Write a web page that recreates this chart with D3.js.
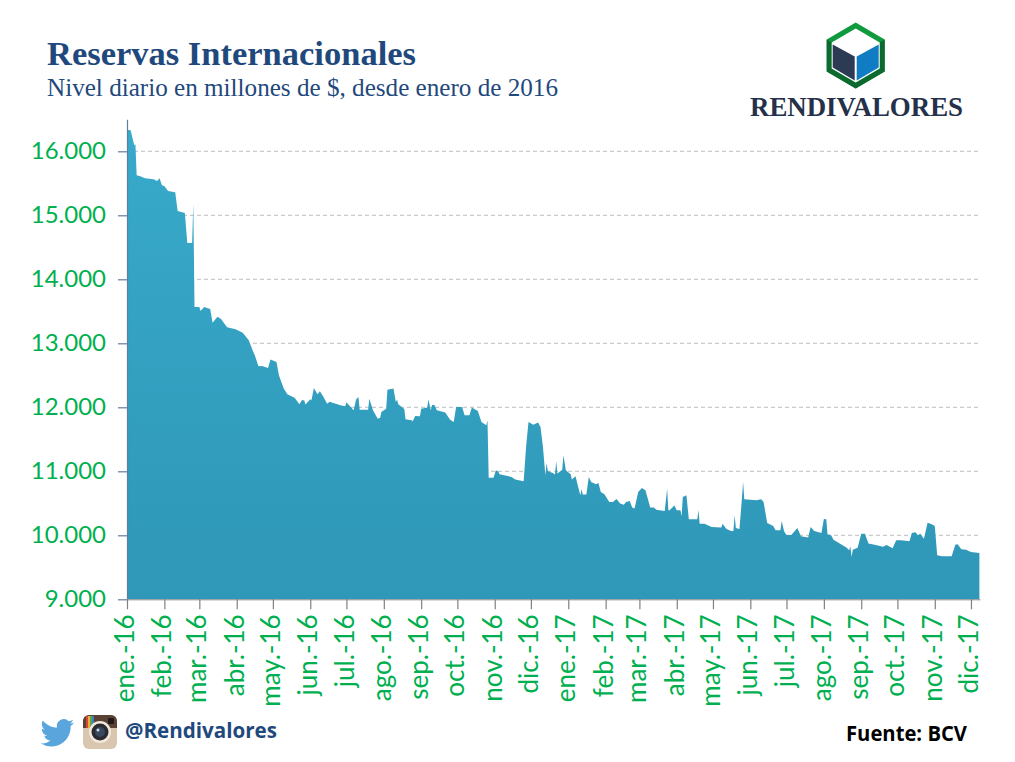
<!DOCTYPE html>
<html>
<head>
<meta charset="utf-8">
<script src="https://cdn.jsdelivr.net/npm/d3@7"></script>
<style>
  body { margin: 0; background: #fff; }
  svg { display: block; }
</style>
</head>
<body>
<script>
// Datos: dias desde el 1 de enero de 2016 y nivel de reservas
const dias = [
  0,3,5,6,7,8,11,15,22,25,
  27,29,31,34,40,42,48,50,54,55,
  56,60,61,64,69,71,75,78,83,90,
  96,101,104,106,109,112,117,119,124,126,
  130,133,139,143,145,147,148,152,153,155,
  158,160,163,166,168,177,181,182,188,190,
  192,193,200,201,204,208,210,211,215,216,
  221,223,224,225,230,231,236,237,239,243,
  244,249,250,252,253,255,257,264,268,271,
  273,278,280,284,286,291,294,298,299,300,
  304,306,308,309,319,322,329,331,333,337,
  341,343,345,347,348,349,354,355,356,357,
  361,362,364,368,369,372,376,377,378,381,
  383,385,389,391,393,396,400,403,406,409,
  412,414,417,419,421,424,427,430,434,437,
  439,446,448,449,450,454,456,459,460,461,
  464,466,472,473,474,475,479,485,493,494,
  497,501,503,504,505,508,510,511,512,522,
  526,528,531,536,538,542,543,545,547,551,
  556,559,565,567,570,576,578,580,581,584,
  586,597,599,600,601,602,606,609,612,615,
  622,627,630,635,638,642,649,651,654,656,
  658,661,664,667,670,672,676,684,687,689,
  692,696,700,707
];
const reservas = [
  16338,16328,16172,16093,16109,15625,15609,15578,15562,15536,
  15578,15468,15458,15380,15359,15067,15036,14567,14567,15182,
  13568,13568,13505,13568,13536,13323,13416,13380,13250,13219,
  13166,13047,12901,12812,12640,12646,12614,12745,12708,12500,
  12292,12203,12151,12047,12109,12109,12042,12125,12109,12302,
  12203,12250,12161,12057,12088,12031,12016,12078,11953,12120,
  12161,11963,11963,12135,11953,11823,11838,11927,11979,12276,
  12292,12083,12120,12047,11974,11812,11797,11781,11864,11859,
  11979,11995,12120,11953,12037,12037,11953,11917,11807,11771,
  12005,12005,11875,11875,11995,11943,11771,11719,11797,10901,
  10901,11016,10995,10953,10912,10870,10844,11380,11771,11729,
  11761,11693,11380,10938,11130,11005,10964,10948,11156,10964,
  11026,11250,11016,10953,10870,10922,10625,10719,10636,10636,
  10912,10834,10797,10818,10677,10641,10521,10521,10568,10495,
  10479,10521,10537,10433,10417,10677,10740,10703,10433,10433,
  10401,10380,10729,10391,10391,10464,10391,10391,10297,10599,
  10625,10250,10250,10250,10391,10182,10182,10130,10120,10182,
  10104,10068,10068,10313,10115,10099,10573,10833,10563,10547,
  10563,10521,10193,10146,10078,10078,10224,10063,10005,10005,
  10115,9984,9964,10130,10068,10037,10255,10250,10016,10000,
  9932,9807,9766,9828,9662,9776,9807,10026,10026,9870,
  9844,9823,9849,9797,9922,9922,9906,10037,10047,10000,
  10026,9948,10198,10177,10146,9688,9672,9672,9854,9859,
  9781,9776,9740,9724
];
const nivelesY = [9000,10000,11000,12000,13000,14000,15000,16000];
const meses = [
  "ene.-16","feb.-16","mar.-16","abr.-16","may.-16","jun.-16","jul.-16","ago.-16",
  "sep.-16","oct.-16","nov.-16","dic.-16","ene.-17","feb.-17","mar.-17","abr.-17",
  "may.-17","jun.-17","jul.-17","ago.-17","sep.-17","oct.-17","nov.-17","dic.-17"
];

const w = 1015;
const h = 762;
const inicio = new Date(2016, 0, 1);
const fin = new Date(2017, 11, 8, 12);
const verde = "#00b050";
const azul = "#1f497d";

const svg = d3.select("body").append("svg")
  .attr("width", w)
  .attr("height", h)
  .style("background", "#fff");

const x = d3.scaleTime().domain([inicio, fin]).range([127, 980]);
const y = d3.scaleLinear().domain([9000, 16500]).range([599.3, 119.3]);

const datos = dias.map((d, i) => ({ fecha: d3.timeDay.offset(inicio, d), valor: reservas[i] }));
const fechasMes = meses.map((m, i) => d3.timeMonth.offset(inicio, i));
const miles = d3.formatLocale({ decimal: ",", thousands: ".", grouping: [3], currency: ["", ""] }).format(",");

// lineas punteadas detras del area
svg.append("g").selectAll("line")
  .data(nivelesY.slice(1))
  .enter().append("line")
  .attr("x1", x.range()[0])
  .attr("x2", x.range()[1])
  .attr("y1", d => y(d))
  .attr("y2", d => y(d))
  .attr("stroke", "#bdbdbd")
  .attr("stroke-width", 1)
  .attr("stroke-dasharray", "4 3");

const grad = svg.append("defs").append("linearGradient")
  .attr("id", "relleno")
  .attr("gradientUnits", "userSpaceOnUse")
  .attr("x1", 0).attr("x2", 0)
  .attr("y1", y(16500)).attr("y2", y(9000));
grad.append("stop").attr("offset", "0%").attr("stop-color", "#38aacb");
grad.append("stop").attr("offset", "100%").attr("stop-color", "#2f97b7");

const area = d3.area()
  .x(d => x(d.fecha))
  .y0(y(9000))
  .y1(d => y(d.valor));

svg.append("path")
  .datum(datos)
  .attr("d", area)
  .attr("fill", "url(#relleno)");

// ejes
const ejeY = svg.append("g")
  .attr("transform", "translate(127,0)")
  .call(d3.axisLeft(y).tickValues(nivelesY).tickFormat(miles).tickSize(9).tickSizeOuter(0).tickPadding(12));
ejeY.select(".domain").attr("stroke", "#5f7f9b").attr("stroke-width", 1.2);
ejeY.selectAll(".tick line").attr("stroke", "#5f7f9b").attr("stroke-width", 1.2);
ejeY.selectAll("text")
  .attr("fill", verde)
  .style("font", "24px Lato, sans-serif");

const ejeX = svg.append("g")
  .attr("transform", "translate(0,599.3)")
  .call(d3.axisBottom(x).tickValues(fechasMes).tickFormat((d, i) => meses[i]).tickSize(10).tickSizeOuter(0));
ejeX.select(".domain").attr("stroke", "#8a8a8a");
ejeX.selectAll(".tick line").attr("stroke", "#808080").attr("stroke-width", 1.2);
ejeX.selectAll("text")
  .attr("fill", verde)
  .attr("text-anchor", "end")
  .attr("dy", null)
  .attr("x", -15)
  .attr("y", 0)
  .attr("dominant-baseline", "middle")
  .attr("transform", "rotate(-90)")
  .style("font", "26px Lato, sans-serif");

// titulos
svg.append("text")
  .attr("x", 47).attr("y", 65)
  .attr("fill", azul)
  .attr("textLength", 369)
  .attr("lengthAdjust", "spacingAndGlyphs")
  .style("font", "bold 34px 'Liberation Serif', serif")
  .text("Reservas Internacionales");
svg.append("text")
  .attr("x", 47).attr("y", 96)
  .attr("fill", azul)
  .attr("textLength", 511)
  .attr("lengthAdjust", "spacingAndGlyphs")
  .style("font", "25px 'Liberation Serif', serif")
  .text("Nivel diario en millones de $, desde enero de 2016");

// logo
const logo = svg.append("g").attr("transform", "translate(855.7,55.5)");
logo.append("polygon").attr("points", "0,-33 29,-16 29,16 0,33 -29,16 -29,-16").attr("fill", "#0f9a3e");
logo.append("polygon").attr("points", "29,-16 29,16 0,33 -29,16 -29,-16 -24,-13 -24,13 0,27 24,13 24,-13").attr("fill", "#0c6a30");
logo.append("polygon").attr("points", "0,-27 24,-13 24,13 0,27 -24,13 -24,-13").attr("fill", "#fff");
logo.append("polygon").attr("points", "-23,-11 -1,1 -1,25 -23,12").attr("fill", "#2c3a54");
logo.append("polygon").attr("points", "23,-11 1,1 1,25 23,12").attr("fill", "#0f7cc4");
svg.append("text")
  .attr("x", 750).attr("y", 116)
  .attr("fill", "#25304a")
  .attr("textLength", 213)
  .attr("lengthAdjust", "spacingAndGlyphs")
  .style("font", "bold 27px 'Liberation Serif', serif")
  .text("RENDIVALORES");

// pie: twitter
svg.append("path")
  .attr("transform", "translate(40.5,716) scale(1.4)")
  .attr("fill", "#5aa5dc")
  .attr("d", "M23.953 4.57a10 10 0 01-2.825.775 4.958 4.958 0 002.163-2.723c-.951.555-2.005.959-3.127 1.184a4.92 4.92 0 00-8.384 4.482C7.69 8.095 4.067 6.13 1.64 3.162a4.822 4.822 0 00-.666 2.475c0 1.71.87 3.213 2.188 4.096a4.904 4.904 0 01-2.228-.616v.06a4.923 4.923 0 003.946 4.827 4.996 4.996 0 01-2.212.085 4.936 4.936 0 004.604 3.417 9.867 9.867 0 01-6.102 2.105c-.39 0-.779-.023-1.17-.067a13.995 13.995 0 007.557 2.209c9.053 0 13.998-7.496 13.998-13.985 0-.21 0-.42-.015-.63A9.935 9.935 0 0024 4.59z");

// pie: instagram
const ig = svg.append("g").attr("transform", "translate(83,715)");
ig.append("rect").attr("width", 34).attr("height", 34).attr("rx", 6).attr("fill", "#d8c6ae");
ig.append("path").attr("d", "M0,13 V6 A6,6 0 0 1 6,0 H28 A6,6 0 0 1 34,6 V13 Z").attr("fill", "#5b4034");
["#d9473c", "#e8b23a", "#58a85a", "#3f7fc0"].forEach((c, i) => {
  ig.append("rect").attr("x", 3 + i * 2).attr("y", 1).attr("width", 2).attr("height", 12).attr("fill", c);
});
ig.append("rect").attr("x", 25).attr("y", 3).attr("width", 6).attr("height", 6).attr("rx", 1).attr("fill", "#20181a");
ig.append("circle").attr("cx", 17).attr("cy", 17).attr("r", 11).attr("fill", "#f1e9dc");
ig.append("circle").attr("cx", 17).attr("cy", 17).attr("r", 8.5).attr("fill", "#2a2a30");
ig.append("circle").attr("cx", 17).attr("cy", 17).attr("r", 5).attr("fill", "#39485c");
ig.append("circle").attr("cx", 15).attr("cy", 15).attr("r", 1.5).attr("fill", "#cfd8e2");

svg.append("text")
  .attr("x", 125).attr("y", 738)
  .attr("fill", azul)
  .attr("textLength", 152)
  .attr("lengthAdjust", "spacingAndGlyphs")
  .style("font", "bold 22px 'Open Sans', sans-serif")
  .text("@Rendivalores");
svg.append("text")
  .attr("x", 846).attr("y", 741)
  .attr("fill", "#000")
  .attr("textLength", 121)
  .attr("lengthAdjust", "spacingAndGlyphs")
  .style("font", "bold 22px 'Open Sans', sans-serif")
  .text("Fuente: BCV");
</script>
</body>
</html>
